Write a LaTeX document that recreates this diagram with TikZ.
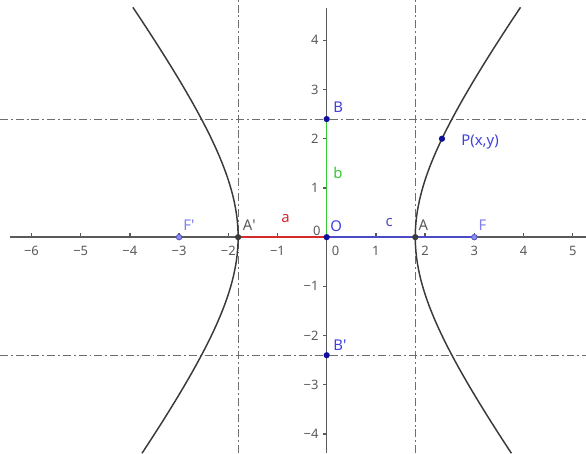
\documentclass[tikz,border=0pt]{standalone}
\usepackage{fontspec}
\setmainfont{Noto Sans}
\usetikzlibrary{positioning}
\definecolor{AxisGray}{HTML}{5A5A5A}
\definecolor{CurveGray}{HTML}{3A3A3A}
\definecolor{GuideGray}{HTML}{6E6E6E}
\definecolor{SegRed}{HTML}{D42A2A}
\definecolor{SegGreen}{HTML}{33CC33}
\definecolor{SegBlue}{HTML}{4B4BC8}
\definecolor{PtDark}{HTML}{10109A}
\definecolor{PtLight}{HTML}{8C8CF5}
\definecolor{LblBlue}{HTML}{4040E0}
\definecolor{LblLight}{HTML}{7F7FF0}
\newcommand{\axisnum}[1]{\ifnum#1<0 −\number\numexpr-#1\relax\else#1\fi}

\begin{document}
\begin{tikzpicture}[>=stealth,node distance=2mm]
  \useasboundingbox (-6.64,-4.39) rectangle (5.27,4.82);
  \tikzstyle{axis}=[draw=AxisGray,line width=0.8pt]
  \tikzstyle{guide}=[draw=GuideGray,line width=0.55pt,
    dash pattern=on 4.6pt off 1.7pt on 1.1pt off 1.7pt]
  \tikzstyle{curve}=[draw=CurveGray,line width=0.85pt]
  \tikzstyle{seg}=[line width=0.85pt]
  \tikzstyle{ticknum}=[inner sep=0pt,text=AxisGray,
    font=\fontsize{7.5}{8.5}\selectfont]
  \tikzstyle{ptlabel}=[inner sep=0pt,anchor=base west,
    font=\fontsize{8.6}{9.6}\selectfont]
  \tikzstyle{ptdark}=[fill=PtDark]
  \tikzstyle{ptgray}=[fill=CurveGray]
  \tikzstyle{ptlight}=[fill=PtLight,draw=PtDark!70,line width=0.5pt]

  % axes
  \coordinate (xmin) at (-6.44,0);
  \coordinate (xmax) at (5.27,0);
  \coordinate (ymin) at (0,-4.39);
  \coordinate (ymax) at (0,4.65);
  \draw[axis] (xmin) -- (xmax);
  \draw[axis] (ymin) -- (ymax);
  \foreach \x in {-6,...,-1,1,2,3,4,5} {
    \draw[axis] (\x,0) -- (\x,0.08);
    \node[ticknum,anchor=base] (tx\x) at (\x,-0.37) {\axisnum{\x}};
  }
  \foreach \y in {-4,...,-1,1,2,3,4} {
    \draw[axis] (0,\y) -- (-0.08,\y);
    \node[ticknum,anchor=east] (ty\y) at (-0.16,\y) {\axisnum{\y}};
  }
  \node[ticknum,anchor=base east] (y0) at (-0.12,0.04) {0};
  \node[ticknum,anchor=base west] (x0) at (0.1,-0.37) {0};

  % guides x=+-a, y=+-b
  \coordinate (gbl) at (-6.64,2.4);  \coordinate (gbr) at (5.27,2.4);
  \coordinate (gbpl) at (-6.64,-2.4); \coordinate (gbpr) at (5.27,-2.4);
  \coordinate (gab) at (1.8,-4.39);  \coordinate (gat) at (1.8,4.82);
  \coordinate (gapb) at (-1.8,-4.39); \coordinate (gapt) at (-1.8,4.82);
  \draw[guide] (gbl) -- (gbr);
  \draw[guide] (gbpl) -- (gbpr);
  \draw[guide] (gab) -- (gat);
  \draw[guide] (gapb) -- (gapt);

  % hyperbola x^2/1.8^2 - y^2/2.4^2 = 1
  \draw[curve] plot[domain=-1.365:1.42,samples=80,smooth]
    ({1.8*cosh(\x)},{2.4*sinh(\x)});
  \draw[curve] plot[domain=-1.365:1.42,samples=80,smooth]
    ({-1.8*cosh(\x)},{2.4*sinh(\x)});

  % points
  \coordinate (O) at (0,0);
  \coordinate (A) at (1.8,0);
  \coordinate (Ap) at (-1.8,0);
  \coordinate (F) at (3,0);
  \coordinate (Fp) at (-3,0);
  \coordinate (B) at (0,2.4);
  \coordinate (Bp) at (0,-2.4);
  \coordinate (P) at (2.343,2);

  \draw[seg,SegRed] (Ap) -- (O);
  \draw[seg,SegBlue] (O) -- (F);
  \draw[seg,SegGreen] (O) -- (B);

  \foreach \p in {O,B,Bp,P} \fill[ptdark] (\p) circle (1.8pt);
  \foreach \p in {A,Ap} \fill[ptgray] (\p) circle (1.8pt);
  \foreach \p in {F,Fp} \filldraw[ptlight] (\p) circle (1.6pt);

  % labels
  \node[ptlabel,text=LblLight] (lFp) at (-2.92,0.14) {F\textquotesingle};
  \node[ptlabel,text=AxisGray] (lAp) at (-1.71,0.13) {A\textquotesingle};
  \node[ptlabel,text=SegRed] (la) at (-0.93,0.30) {a};
  \node[ptlabel,text=LblBlue] (lO) at (0.07,0.11) {O};
  \node[ptlabel,text=SegBlue] (lc) at (1.19,0.21) {c};
  \node[ptlabel,text=AxisGray] (lA) at (1.86,0.14) {A};
  \node[ptlabel,text=LblLight] (lF) at (3.08,0.14) {F};
  \node[ptlabel,text=LblBlue] (lB) at (0.13,2.54) {B};
  \node[ptlabel,text=SegGreen] (lb) at (0.13,1.20) {b};
  \node[ptlabel,text=LblBlue] (lBp) at (0.13,-2.30) {B\textquotesingle};
  \node[ptlabel,text=LblBlue] (lP) at (2.73,1.87) {P(x,y)};
\end{tikzpicture}
\end{document}
